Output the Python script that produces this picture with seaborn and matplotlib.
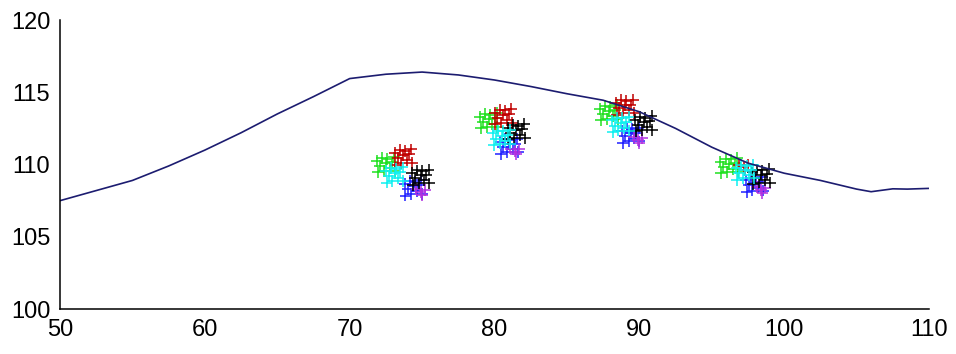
import pandas as pd
import matplotlib
matplotlib.use("Agg")
import matplotlib.pyplot as plt
import seaborn as sns

# curve
line_x = [50, 52.5, 55, 57.5, 60, 62.5, 65, 67.5, 70, 72.5, 75, 77.5, 80, 82.5, 85,
          87.5, 90, 92.5, 95, 97.5, 100, 102.5, 105, 106, 107.5, 108.5, 110]
line_y = [107.5, 108.2, 108.9, 109.9, 111.0, 112.2, 113.5, 114.7, 115.95, 116.25, 116.4,
          116.2, 115.85, 115.4, 114.9, 114.45, 113.65, 112.5, 111.2, 110.1, 109.4, 108.9,
          108.3, 108.12, 108.32, 108.3, 108.35]

# point clusters, one pair of lists per colour (four clusters each)
green_x = [71.9, 72.25, 72.6, 72.1, 72.5, 72.9, 72.35, 72.75, 73.1, 73.05, 71.95,
           79.0, 79.35, 79.7, 79.2, 79.6, 80.0, 79.45, 79.85, 80.2, 80.15, 79.05,
           87.3, 87.65, 88.0, 87.5, 87.9, 88.3, 87.75, 88.15, 88.5, 88.45, 87.35,
           95.6, 95.95, 96.3, 95.8, 96.2, 96.6, 96.05, 96.45, 96.8, 96.75, 95.65]
green_y = [110.25, 110.45, 110.4, 109.9, 110.1, 110.15, 109.55, 109.75, 109.55, 110.5, 109.45,
           113.3, 113.5, 113.45, 112.95, 113.15, 113.2, 112.6, 112.8, 112.6, 113.55, 112.5,
           113.85, 114.05, 114.0, 113.5, 113.7, 113.75, 113.15, 113.35, 113.15, 114.1, 113.05,
           110.2, 110.4, 110.35, 109.85, 110.05, 110.1, 109.5, 109.7, 109.5, 110.45, 109.4]

red_x = [73.1, 73.45, 73.8, 73.3, 73.7, 74.1, 73.55, 73.95, 74.3, 74.25, 73.15,
         80.0, 80.35, 80.7, 80.2, 80.6, 81.0, 80.45, 80.85, 81.2, 81.15, 80.05,
         88.4, 88.75, 89.1, 88.6, 89.0, 89.4, 88.85, 89.25, 89.6, 89.55, 88.45,
         96.9, 97.2, 97.5, 97.3]
red_y = [110.8, 111.0, 110.95, 110.45, 110.65, 110.7, 110.1, 110.3, 110.1, 111.05, 110.0,
         113.6, 113.8, 113.75, 113.25, 113.45, 113.5, 112.9, 113.1, 112.9, 113.85, 112.8,
         114.25, 114.45, 114.4, 113.9, 114.1, 114.15, 113.55, 113.75, 113.55, 114.5, 113.45,
         110.0, 109.8, 109.95, 109.6]

cyan_x = [72.5, 72.85, 73.2, 72.7, 73.1, 73.5, 72.95, 73.35, 73.7, 73.65, 72.55,
          79.9, 80.25, 80.6, 80.1, 80.5, 80.9, 80.35, 80.75, 81.1, 81.05, 79.95,
          88.1, 88.45, 88.8, 88.3, 88.7, 89.1, 88.55, 88.95, 89.3, 89.25, 88.15,
          96.7, 97.05, 97.4, 96.9, 97.3, 97.7, 97.15, 97.55, 97.9, 97.85, 96.75]
cyan_y = [109.55, 109.75, 109.7, 109.2, 109.4, 109.45, 108.85, 109.05, 108.85, 109.8, 108.75,
          112.15, 112.35, 112.3, 111.8, 112.0, 112.05, 111.45, 111.65, 111.45, 112.4, 111.35,
          113.05, 113.25, 113.2, 112.7, 112.9, 112.95, 112.35, 112.55, 112.35, 113.3, 112.25,
          109.75, 109.95, 109.9, 109.4, 109.6, 109.65, 109.05, 109.25, 109.05, 110.0, 108.95]

black_x = [74.3, 74.65, 75.0, 74.5, 74.9, 75.3, 74.75, 75.15, 75.5, 75.45, 74.35,
           80.9, 81.25, 81.6, 81.1, 81.5, 81.9, 81.35, 81.75, 82.1, 82.05, 80.95,
           89.7, 90.05, 90.4, 89.9, 90.3, 90.7, 90.15, 90.55, 90.9, 90.85, 89.75,
           97.8, 98.15, 98.5, 98.0, 98.4, 98.8, 98.25, 98.65, 99.0, 98.95, 97.85]
black_y = [109.4, 109.6, 109.55, 109.05, 109.25, 109.3, 108.7, 108.9, 108.7, 109.65, 108.6,
           112.55, 112.75, 112.7, 112.2, 112.4, 112.45, 111.85, 112.05, 111.85, 112.8, 111.75,
           113.1, 113.3, 113.25, 112.75, 112.95, 113.0, 112.4, 112.6, 112.4, 113.35, 112.3,
           109.45, 109.65, 109.6, 109.1, 109.3, 109.35, 108.75, 108.95, 108.75, 109.7, 108.65]

blue_x = [73.8, 74.15, 74.5, 74.0, 74.4, 74.8, 74.25, 74.65, 75.0, 74.95, 73.85,
          80.4, 80.75, 81.1, 80.6, 81.0, 81.4, 80.85, 81.25, 81.6, 81.55, 80.45,
          88.8, 89.15, 89.5, 89.0, 89.4, 89.8, 89.25, 89.65, 90.0, 89.95, 88.85,
          97.35, 97.7, 98.05, 97.55, 97.95, 98.35, 97.8, 98.2, 98.55, 98.5, 97.4]
blue_y = [108.65, 108.85, 108.8, 108.3, 108.5, 108.55, 107.95, 108.15, 107.95, 108.9, 107.85,
          111.55, 111.75, 111.7, 111.2, 111.4, 111.45, 110.85, 111.05, 110.85, 111.8, 110.75,
          112.3, 112.5, 112.45, 111.95, 112.15, 112.2, 111.6, 111.8, 111.6, 112.55, 111.5,
          108.9, 109.1, 109.05, 108.55, 108.75, 108.8, 108.2, 108.4, 108.2, 109.15, 108.1]

magenta_x = [74.6, 74.9, 75.2, 75.0, 81.1, 81.4, 81.7, 81.5,
             89.6, 89.9, 90.2, 90.0, 98.1, 98.4, 98.7, 98.5]
magenta_y = [108.3, 108.1, 108.25, 107.9, 111.1, 110.9, 111.05, 110.7,
             111.9, 111.7, 111.85, 111.5, 108.45, 108.25, 108.4, 108.05]

groups = {
    "b": (blue_x, blue_y),
    "m": (magenta_x, magenta_y),
    "g": (green_x, green_y),
    "r": (red_x, red_y),
    "k": (black_x, black_y),
    "c": (cyan_x, cyan_y),
}
palette = {"b": "#2020ff", "m": "#b030e0", "g": "#20e020", "r": "#c00000",
           "c": "#10f0f0", "k": "#000000"}

df = pd.concat([pd.DataFrame({"x": xs, "y": ys, "grp": g}) for g, (xs, ys) in groups.items()],
               ignore_index=True)

sns.set_style("white")
plt.rcParams["font.family"] = ["Liberation Sans", "DejaVu Sans"]

fig = plt.figure(figsize=(9.56, 3.54), dpi=100)
ax = fig.add_axes([0.0628, 0.127, 0.909, 0.8164])

sns.lineplot(x=line_x, y=line_y, ax=ax, color="#1c1c70", linewidth=1.2)
sns.scatterplot(data=df, x="x", y="y", hue="grp", palette=palette, marker="+",
                s=70, linewidth=1.1, ax=ax, legend=False)

ax.set_xlim(50, 110)
ax.set_ylim(100, 120)
ax.set_xticks(range(50, 111, 10))
ax.set_yticks(range(100, 121, 5))
ax.set_xlabel("")
ax.set_ylabel("")
ax.tick_params(direction="in", length=6, width=1, colors="black", labelsize=17, pad=7)
for side in ["top", "right"]:
    ax.spines[side].set_visible(False)
for side in ["left", "bottom"]:
    ax.spines[side].set_color("black")
    ax.spines[side].set_linewidth(1.1)

fig.savefig("out.png", dpi=100)
